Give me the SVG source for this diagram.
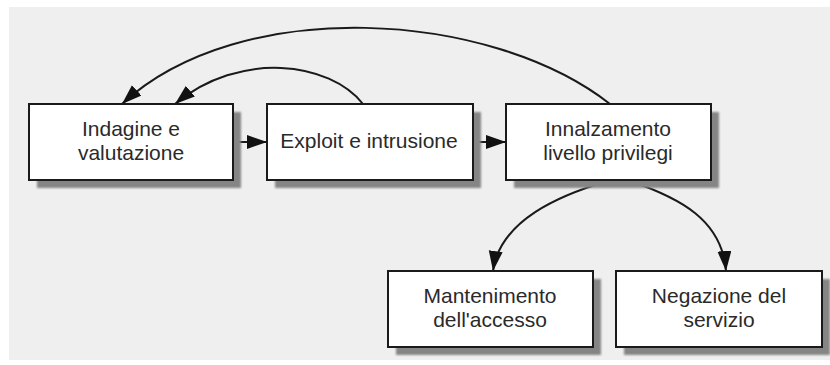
<svg xmlns="http://www.w3.org/2000/svg" width="830" height="365" viewBox="0 0 830 365">
  <defs>
    <marker id="arr" markerUnits="userSpaceOnUse" markerWidth="22" markerHeight="16" refX="20" refY="7" orient="auto">
      <path d="M0,0 L20,7 L0,14 z" fill="#111"/>
    </marker>
    <filter id="blur" x="-10%" y="-10%" width="120%" height="120%">
      <feGaussianBlur stdDeviation="1.2"/>
    </filter>
    <style>
      .shadow { fill: #858585; filter: url(#blur); }
      .box { fill: #ffffff; stroke: #1a1a1a; stroke-width: 2; }
      .lbl { font-family: "Liberation Sans", Arial, sans-serif; font-size: 21px; fill: #2a2a2a; text-anchor: middle; }
      .conn { fill: none; stroke: #1a1a1a; stroke-width: 2; marker-end: url(#arr); }
    </style>
  </defs>
  <rect x="0" y="0" width="830" height="365" fill="#ffffff"/>
  <rect x="9" y="7" width="821" height="353" fill="#efefef"/>

  <g id="connectors">
    <path class="conn" d="M233,142 L267,142"/>
    <path class="conn" d="M473,142 L506,142"/>
    <path class="conn" d="M363,104 C330,62 240,50 175,104"/>
    <path class="conn" d="M610,104 C490,10 240,-5 122,104"/>
    <path class="conn" d="M608,181 C560,195 500,220 493,271"/>
    <path class="conn" d="M630,181 C680,198 722,220 726,271"/>
  </g>

  <g id="n1">
    <rect class="shadow" x="37" y="112" width="204" height="76"/>
    <rect class="box" x="29" y="104" width="204" height="76"/>
    <text class="lbl" x="131" y="136">Indagine e</text>
    <text class="lbl" x="131" y="160">valutazione</text>
  </g>
  <g id="n2">
    <rect class="shadow" x="275" y="112" width="206" height="76"/>
    <rect class="box" x="267" y="104" width="206" height="76"/>
    <text class="lbl" x="369" y="148">Exploit e intrusione</text>
  </g>
  <g id="n3">
    <rect class="shadow" x="514" y="112" width="205" height="76"/>
    <rect class="box" x="506" y="104" width="205" height="76"/>
    <text class="lbl" x="608" y="136">Innalzamento</text>
    <text class="lbl" x="608" y="160">livello privilegi</text>
  </g>
  <g id="n4">
    <rect class="shadow" x="396" y="279" width="205" height="76"/>
    <rect class="box" x="388" y="271" width="205" height="76"/>
    <text class="lbl" x="490" y="303">Mantenimento</text>
    <text class="lbl" x="490" y="327">dell'accesso</text>
  </g>
  <g id="n5">
    <rect class="shadow" x="624" y="279" width="206" height="76"/>
    <rect class="box" x="616" y="271" width="206" height="76"/>
    <text class="lbl" x="719" y="303">Negazione del</text>
    <text class="lbl" x="719" y="327">servizio</text>
  </g>
</svg>
